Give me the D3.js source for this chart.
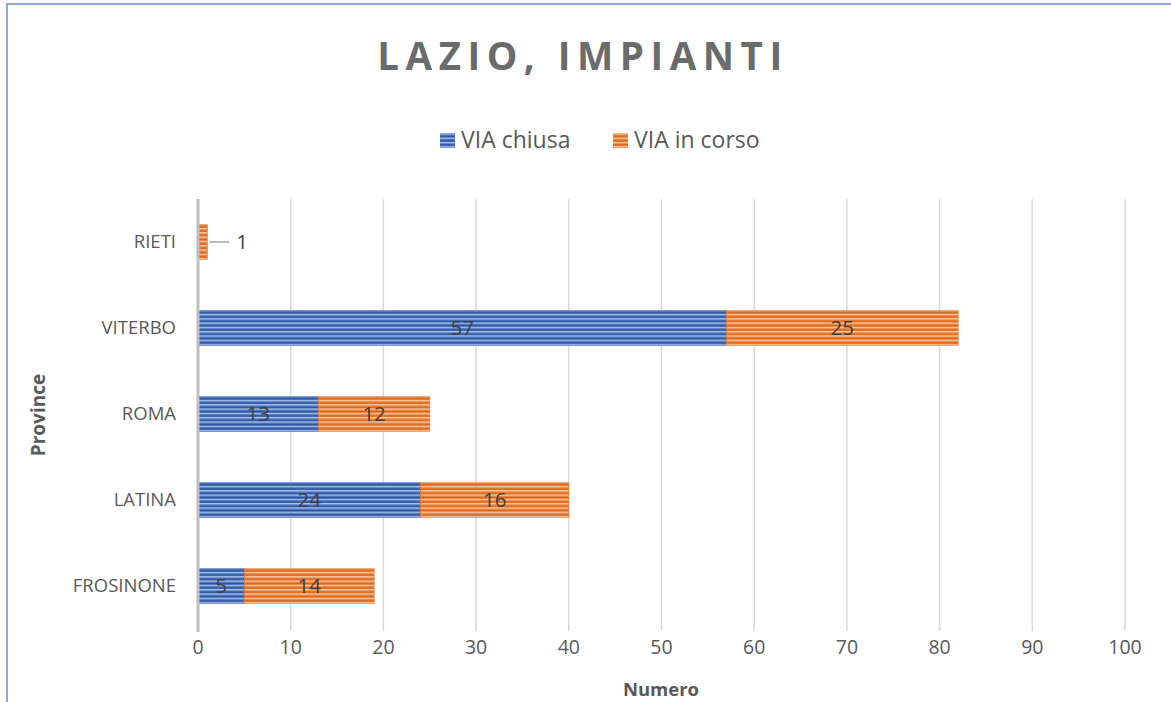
<!DOCTYPE html>
<html><head><meta charset="utf-8">
<script src="https://cdn.jsdelivr.net/npm/d3@7"></script>
<style>body{margin:0;background:#fff;}svg{display:block;font-family:"Open Sans","Noto Sans",sans-serif;}</style>
</head><body>
<svg id="c" width="1171" height="702"></svg>
<script>
const categories = ["FROSINONE","LATINA","ROMA","VITERBO","RIETI"];
const viaChiusa = [5,24,13,57,0];
const viaInCorso = [14,16,12,25,1];
const seriesNames = ["VIA chiusa","VIA in corso"];
const xTicks = [0,10,20,30,40,50,60,70,80,90,100];

const svg = d3.select("#c");
const W=1171,H=702;
svg.append("rect").attr("x",7).attr("y",4).attr("width",W+20).attr("height",H+20)
  .attr("fill","#fff").attr("stroke","#8eaadb").attr("stroke-width",2);

const defs = svg.append("defs");
function stripes(id, base, light, dark){
  const p = defs.append("pattern").attr("id",id).attr("patternUnits","userSpaceOnUse")
    .attr("width",8).attr("height",4.3);
  p.append("rect").attr("width",8).attr("height",4.3).attr("fill",base);
  p.append("rect").attr("y",0).attr("width",8).attr("height",1.3).attr("fill",light);
  p.append("rect").attr("y",2.6).attr("width",8).attr("height",1).attr("fill",dark);
}
stripes("pb","#4472c4","#a9bfe8","#2f528f");
stripes("po","#ed7d31","#f8c8a6","#d8661c");

const x = d3.scaleLinear().domain([0,100]).range([198,1125]);
const y = d3.scaleBand().domain(categories.slice().reverse()).range([199,629]).paddingInner(0.6).paddingOuter(0.3);

// gridlines
svg.append("g").selectAll("line").data(xTicks.slice(1)).join("line")
  .attr("x1",d=>x(d)).attr("x2",d=>x(d)).attr("y1",199).attr("y2",631)
  .attr("stroke","#d9d9d9").attr("stroke-width",1.5);

// title
svg.append("text").attr("x",583).attr("y",70).attr("text-anchor","middle")
  .attr("font-size",38.5).attr("font-weight","bold").attr("fill","#6b6b6b")
  .attr("letter-spacing",6.5).text("LAZIO, IMPIANTI");

// legend
const leg = [{n:seriesNames[0],p:"pb",x:440},{n:seriesNames[1],p:"po",x:613}];
leg.forEach(l=>{
  svg.append("rect").attr("x",l.x).attr("y",133).attr("width",15).attr("height",15).attr("fill",`url(#${l.p})`);
  svg.append("text").attr("x",l.x+21).attr("y",148).attr("font-size",23).attr("fill","#595959").text(l.n);
});

// bars
const data = categories.map((c,i)=>({c,a:viaChiusa[i],b:viaInCorso[i]}));
const g = svg.append("g");
data.forEach(d=>{
  if(d.a>0){
    g.append("rect").attr("x",x(0)).attr("y",y(d.c)).attr("width",x(d.a)-x(0)).attr("height",y.bandwidth())
      .attr("fill","url(#pb)").attr("stroke","#3a63ad").attr("stroke-width",0.8);
    g.append("text").attr("x",(x(0)+x(d.a))/2).attr("y",y(d.c)+y.bandwidth()/2+7)
      .attr("text-anchor","middle").attr("font-size",20.5).attr("fill","#404040").text(d.a);
  }
  if(d.b>0){
    g.append("rect").attr("x",x(d.a)).attr("y",y(d.c)).attr("width",x(d.a+d.b)-x(d.a)).attr("height",y.bandwidth())
      .attr("fill","url(#po)").attr("stroke","#e27a3a").attr("stroke-width",0.8);
    if(d.a>0){
      g.append("text").attr("x",(x(d.a)+x(d.a+d.b))/2).attr("y",y(d.c)+y.bandwidth()/2+7)
        .attr("text-anchor","middle").attr("font-size",20.5).attr("fill","#404040").text(d.b);
    } else {
      const ym = y(d.c)+y.bandwidth()/2;
      g.append("line").attr("x1",x(d.b)+2).attr("x2",x(d.b)+22).attr("y1",ym).attr("y2",ym)
        .attr("stroke","#a6a6a6").attr("stroke-width",1.5);
      g.append("text").attr("x",x(d.b)+29).attr("y",ym+7).attr("font-size",20.5).attr("fill","#404040").text(d.b);
    }
  }
});

// y axis line
svg.append("line").attr("x1",x(0)).attr("x2",x(0)).attr("y1",199).attr("y2",632)
  .attr("stroke","#bfbfbf").attr("stroke-width",3);

// y labels
svg.append("g").selectAll("text").data(categories).join("text")
  .attr("x",176).attr("y",d=>y(d)+y.bandwidth()/2+6).attr("text-anchor","end")
  .attr("font-size",18.5).attr("fill","#595959").text(d=>d);

// x tick labels
svg.append("g").selectAll("text").data(xTicks).join("text")
  .attr("x",d=>x(d)).attr("y",654).attr("text-anchor","middle")
  .attr("font-size",19.5).attr("fill","#595959").text(d=>d);

// axis titles
svg.append("text").attr("x",661).attr("y",696).attr("text-anchor","middle")
  .attr("font-size",18.5).attr("font-weight","bold").attr("fill","#595959").text("Numero");
svg.append("text").attr("transform","translate(45,415) rotate(-90)").attr("text-anchor","middle")
  .attr("font-size",19).attr("font-weight","bold").attr("fill","#595959").text("Province");
</script>
</body></html>
